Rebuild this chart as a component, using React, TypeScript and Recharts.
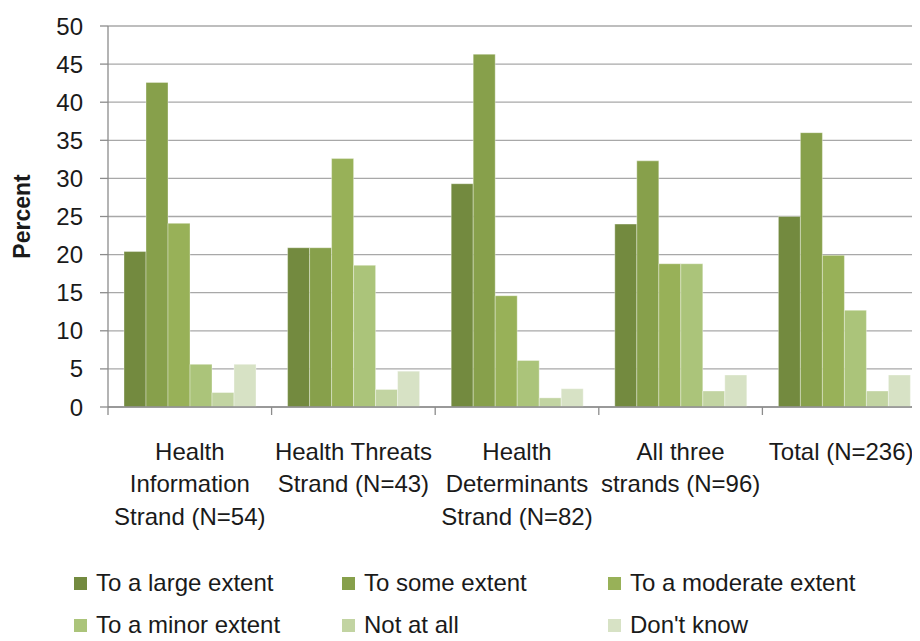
import React from 'react';
import { BarChart, Bar, XAxis, YAxis, CartesianGrid } from 'recharts';

const categories = [
  'Health\nInformation\nStrand (N=54)',
  'Health Threats\nStrand (N=43)',
  'Health\nDeterminants\nStrand (N=82)',
  'All three\nstrands (N=96)',
  'Total (N=236)',
];
const largeExtent = [20.4, 20.9, 29.3, 24.0, 25.0];
const someExtent = [42.6, 20.9, 46.3, 32.3, 36.0];
const moderateExtent = [24.1, 32.6, 14.6, 18.8, 19.9];
const minorExtent = [5.6, 18.6, 6.1, 18.8, 12.7];
const notAtAll = [1.9, 2.3, 1.2, 2.1, 2.1];
const dontKnow = [5.6, 4.7, 2.4, 4.2, 4.2];
const yTicks = [0, 5, 10, 15, 20, 25, 30, 35, 40, 45, 50];

const series = [
  { key: 'large', name: 'To a large extent', values: largeExtent, color: '#738a3f' },
  { key: 'some', name: 'To some extent', values: someExtent, color: '#87a04b' },
  { key: 'moderate', name: 'To a moderate extent', values: moderateExtent, color: '#98b158' },
  { key: 'minor', name: 'To a minor extent', values: minorExtent, color: '#abc47a' },
  { key: 'notAtAll', name: 'Not at all', values: notAtAll, color: '#c2d4a2' },
  { key: 'dontKnow', name: "Don't know", values: dontKnow, color: '#d7e2c5' },
];

const data = categories.map((c, i) => {
  const row: any = { category: c };
  series.forEach((s) => { row[s.key] = s.values[i]; });
  return row;
});

const FONT = '"Liberation Sans", Arial, sans-serif';
const HALF_BAND = 81.8;

const CatTick = (props: any) => {
  const { x, y, payload, index } = props;
  const lines = String(payload.value).split('\n');
  return (
    <g>
      <line x1={x - HALF_BAND} x2={x - HALF_BAND} y1={y} y2={y + 8} stroke="#8c8c8c" strokeWidth={1.3} />
      {index === categories.length - 1 && (
        <line x1={x + HALF_BAND} x2={x + HALF_BAND} y1={y} y2={y + 8} stroke="#8c8c8c" strokeWidth={1.3} />
      )}
      {lines.map((l, i) => (
        <text key={i} x={index === categories.length - 1 ? x - 3 : x} y={y + 52.5 + i * 32.5} textAnchor="middle" fontFamily={FONT} fontSize={24} fill="#1a1a1a">
          {l}
        </text>
      ))}
    </g>
  );
};

const legendPos = [
  [66, 561], [334, 561], [600, 561],
  [66, 603], [334, 603], [600, 603],
];

export default function App() {
  return (
    <div style={{ width: 912, height: 633, overflow: 'hidden', position: 'relative', background: '#fff' }}>
      <BarChart
        width={930}
        height={633}
        data={data}
        margin={{ top: 18, right: 12, bottom: 94, left: 0 }}
        barGap={0}
        barCategoryGap={16}
      >
        <CartesianGrid vertical={false} stroke="#a8a8a8" strokeWidth={1.3} />
        <XAxis
          dataKey="category"
          interval={0}
          height={140}
          tickLine={false}
          tickSize={0}
          tickMargin={0}
          axisLine={{ stroke: '#8c8c8c', strokeWidth: 1.3 }}
          tick={<CatTick />}
        />
        <YAxis
          domain={[0, 50]}
          ticks={yTicks}
          width={100}
          tickSize={8}
          tickMargin={17}
          tickLine={{ stroke: '#8c8c8c', strokeWidth: 1.3 }}
          axisLine={{ stroke: '#8c8c8c', strokeWidth: 1.3 }}
          tick={{ fontFamily: FONT, fontSize: 24, fill: '#1a1a1a' }}
          label={(p: any) => {
            const vb = p.viewBox;
            const cy = vb.y + vb.height / 2;
            return (
              <text x={14} y={cy} transform={`rotate(-90 14 ${cy})`} textAnchor="middle" dominantBaseline="central" fontFamily={FONT} fontWeight="bold" fontSize={23} fill="#1a1a1a">
                Percent
              </text>
            );
          }}
        />
        {series.map((s) => (
          <Bar key={s.key} dataKey={s.key} name={s.name} fill={s.color} stroke="#ffffff" strokeOpacity={0.35} strokeWidth={1} isAnimationActive={false} />
        ))}
      </BarChart>
      {series.map((s, i) => (
        <div key={s.key} style={{ position: 'absolute', left: legendPos[i][0], top: legendPos[i][1], height: 28, display: 'flex', alignItems: 'center', fontFamily: FONT, fontSize: 24, color: '#1a1a1a', whiteSpace: 'nowrap' }}>
          <span style={{ display: 'inline-block', width: 13, height: 13, background: s.color, marginRight: 9 }} />
          {s.name}
        </div>
      ))}
    </div>
  );
}
